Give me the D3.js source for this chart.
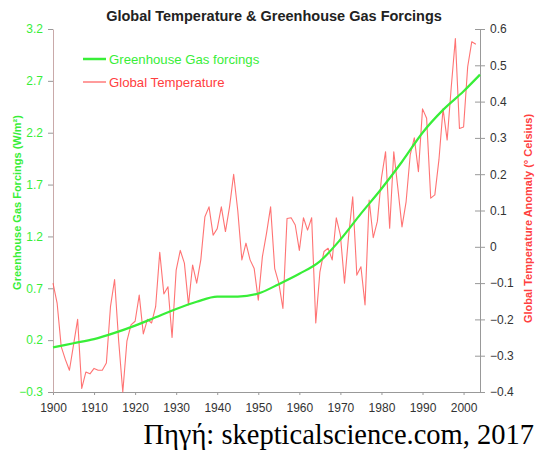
<!DOCTYPE html>
<html><head><meta charset="utf-8">
<script src="https://cdnjs.cloudflare.com/ajax/libs/d3/7.8.5/d3.min.js"></script>
<style>
html,body{margin:0;padding:0;background:#fff;}
svg{display:block;}
</style></head>
<body>
<svg id="chart" width="536" height="450"></svg>
<script>
// ---- data ----
const ghgYears  = [1900,1905,1910,1915,1920,1925,1930,1935,1940,1945,1950,1955,1960,1965,1970,1975,1980,1985,1990,1995,2000,2004];
const ghgValues = [0.13,0.17,0.21,0.27,0.34,0.42,0.50,0.57,0.62,0.62,0.65,0.74,0.84,0.96,1.17,1.42,1.66,1.92,2.20,2.42,2.60,2.76];

const tempStartYear = 1900;
const tempValues = [
 -0.10,-0.155,-0.275,-0.31,-0.34,-0.27,-0.20,-0.39,-0.345,-0.35,   // 1900-1909
 -0.335,-0.34,-0.34,-0.32,-0.165,-0.09,-0.26,-0.40,-0.26,-0.215,   // 1910-1919
 -0.205,-0.133,-0.24,-0.20,-0.21,-0.165,-0.015,-0.13,-0.11,-0.25,  // 1920-1929
 -0.064,-0.01,-0.045,-0.16,-0.05,-0.10,-0.036,0.083,0.11,0.032,    // 1930-1939
 0.05,0.11,0.042,0.11,0.20,0.10,-0.036,0.01,-0.036,-0.06,          // 1940-1949
 -0.147,-0.027,0.037,0.11,-0.06,-0.10,-0.17,0.078,0.08,0.06,       // 1950-1959
 -0.01,0.08,0.046,0.08,-0.21,-0.07,-0.013,-0.004,-0.036,0.08,      // 1960-1969
 0.032,-0.10,0.03,0.138,-0.078,-0.055,-0.16,0.129,0.025,0.07,      // 1970-1979
 0.19,0.262,0.051,0.262,0.161,0.055,0.124,0.253,0.30,0.207,        // 1980-1989
 0.38,0.354,0.134,0.143,0.24,0.38,0.294,0.44,0.574,0.326,          // 1990-1999
 0.33,0.496,0.565,0.558                                            // 2000-2003
];

const xTicks = [1900,1910,1920,1930,1940,1950,1960,1970,1980,1990,2000];
const leftTicks = [-0.3,0.2,0.7,1.2,1.7,2.2,2.7,3.2];
const rightTicks = [-0.4,-0.3,-0.2,-0.1,0,0.1,0.2,0.3,0.4,0.5,0.6];

const title = "Global Temperature & Greenhouse Gas Forcings";
const leftTitle = "Greenhouse Gas Forcings (W/m²)";
const rightTitle = "Global Temperature Anomaly (° Celsius)";
const legendLabels = ["Greenhouse Gas forcings","Global Temperature"];
const sourceText = "Πηγή: skepticalscience.com, 2017";

// ---- layout ----
const GREEN = "#38ee38", RED = "#ff4040";
const L = 53, R = 480, T = 29, B = 392;
const svg = d3.select("#chart");
const font = "Liberation Sans, Arial, sans-serif";

const x = d3.scaleLinear().domain([1900,2004]).range([L,R]);
const yL = d3.scaleLinear().domain([-0.3,3.2]).range([B,T]);
const yR = d3.scaleLinear().domain([-0.4,0.6]).range([B,T]);

// title
svg.append("text").attr("x",274).attr("y",21).attr("text-anchor","middle")
  .attr("font-family",font).attr("font-weight","bold").attr("font-size",14.5)
  .attr("fill","#222").text(title);

// axes
const fmtL = d => d3.format(".1f")(d);
const gB = svg.append("g").attr("transform",`translate(0,${B})`)
  .call(d3.axisBottom(x).tickValues(xTicks).tickFormat(d3.format("d")).tickSize(3).tickSizeOuter(0));
gB.select(".domain").attr("stroke","#999");
gB.selectAll(".tick line").attr("stroke","#999");
gB.selectAll("text").attr("font-family",font).attr("font-size",12).attr("fill","#333").attr("dy","1.2em");

const gL = svg.append("g").attr("transform",`translate(${L},0)`)
  .call(d3.axisLeft(yL).tickValues(leftTicks).tickFormat(fmtL).tickSize(5).tickSizeOuter(0));
gL.select(".domain").attr("stroke","#c9a9a9");
gL.selectAll(".tick line").attr("stroke","#999");
gL.selectAll("text").attr("font-family",font).attr("font-size",12).attr("fill",GREEN).attr("x",-10);

const fmtR = d => d === 0 ? "0" : d3.format(".1f")(d);
const gR = svg.append("g").attr("transform",`translate(${R},0)`)
  .call(d3.axisRight(yR).tickValues(rightTicks).tickFormat(fmtR).tickSize(5).tickSizeOuter(0));
gR.select(".domain").attr("stroke","#999");
gR.selectAll(".tick line").attr("stroke","#999").attr("x1",-5);
gR.selectAll("text").attr("font-family",font).attr("font-size",12).attr("fill","#333").attr("x",10);

// axis titles
svg.append("text").attr("transform",`translate(21,${(T+B)/2 - 8}) rotate(-90)`)
  .attr("text-anchor","middle").attr("font-family",font).attr("font-weight","bold")
  .attr("font-size",11).attr("fill",GREEN).text(leftTitle);
svg.append("text").attr("transform",`translate(532,${(T+B)/2 + 8}) rotate(-90)`)
  .attr("text-anchor","middle").attr("font-family",font).attr("font-weight","bold")
  .attr("font-size",11).attr("fill",RED).text(rightTitle);

// temperature line
const tempData = tempValues.map((v,i)=>({year: tempStartYear+i, v}));
svg.append("path").datum(tempData)
  .attr("fill","none").attr("stroke","#ff5a5a").attr("stroke-width",1.1).attr("stroke-opacity",0.85)
  .attr("stroke-linejoin","round")
  .attr("d", d3.line().x(d=>x(d.year)).y(d=>yR(d.v)));

// GHG line
const ghgData = ghgYears.map((yr,i)=>({year: yr, v: ghgValues[i]}));
svg.append("path").datum(ghgData)
  .attr("fill","none").attr("stroke",GREEN).attr("stroke-width",2.2)
  .attr("d", d3.line().curve(d3.curveMonotoneX).x(d=>x(d.year)).y(d=>yL(d.v)));

// legend
const leg = [{c:GREEN,w:2.5,y:59,t:legendLabels[0]},{c:"#ff5a5a",w:1.2,y:82,t:legendLabels[1]}];
leg.forEach(l=>{
  svg.append("line").attr("x1",83).attr("x2",106).attr("y1",l.y).attr("y2",l.y)
    .attr("stroke",l.c).attr("stroke-width",l.w);
  svg.append("text").attr("x",109).attr("y",l.y).attr("dy","0.35em")
    .attr("font-family",font).attr("font-size",13.2).attr("fill",l.c===GREEN?GREEN:RED).text(l.t);
});

// source
svg.append("text").attr("x",534).attr("y",444).attr("text-anchor","end")
  .attr("font-family","Liberation Serif, Times New Roman, serif").attr("font-size",28.5)
  .attr("fill","#000").text(sourceText);
</script>
</body></html>
